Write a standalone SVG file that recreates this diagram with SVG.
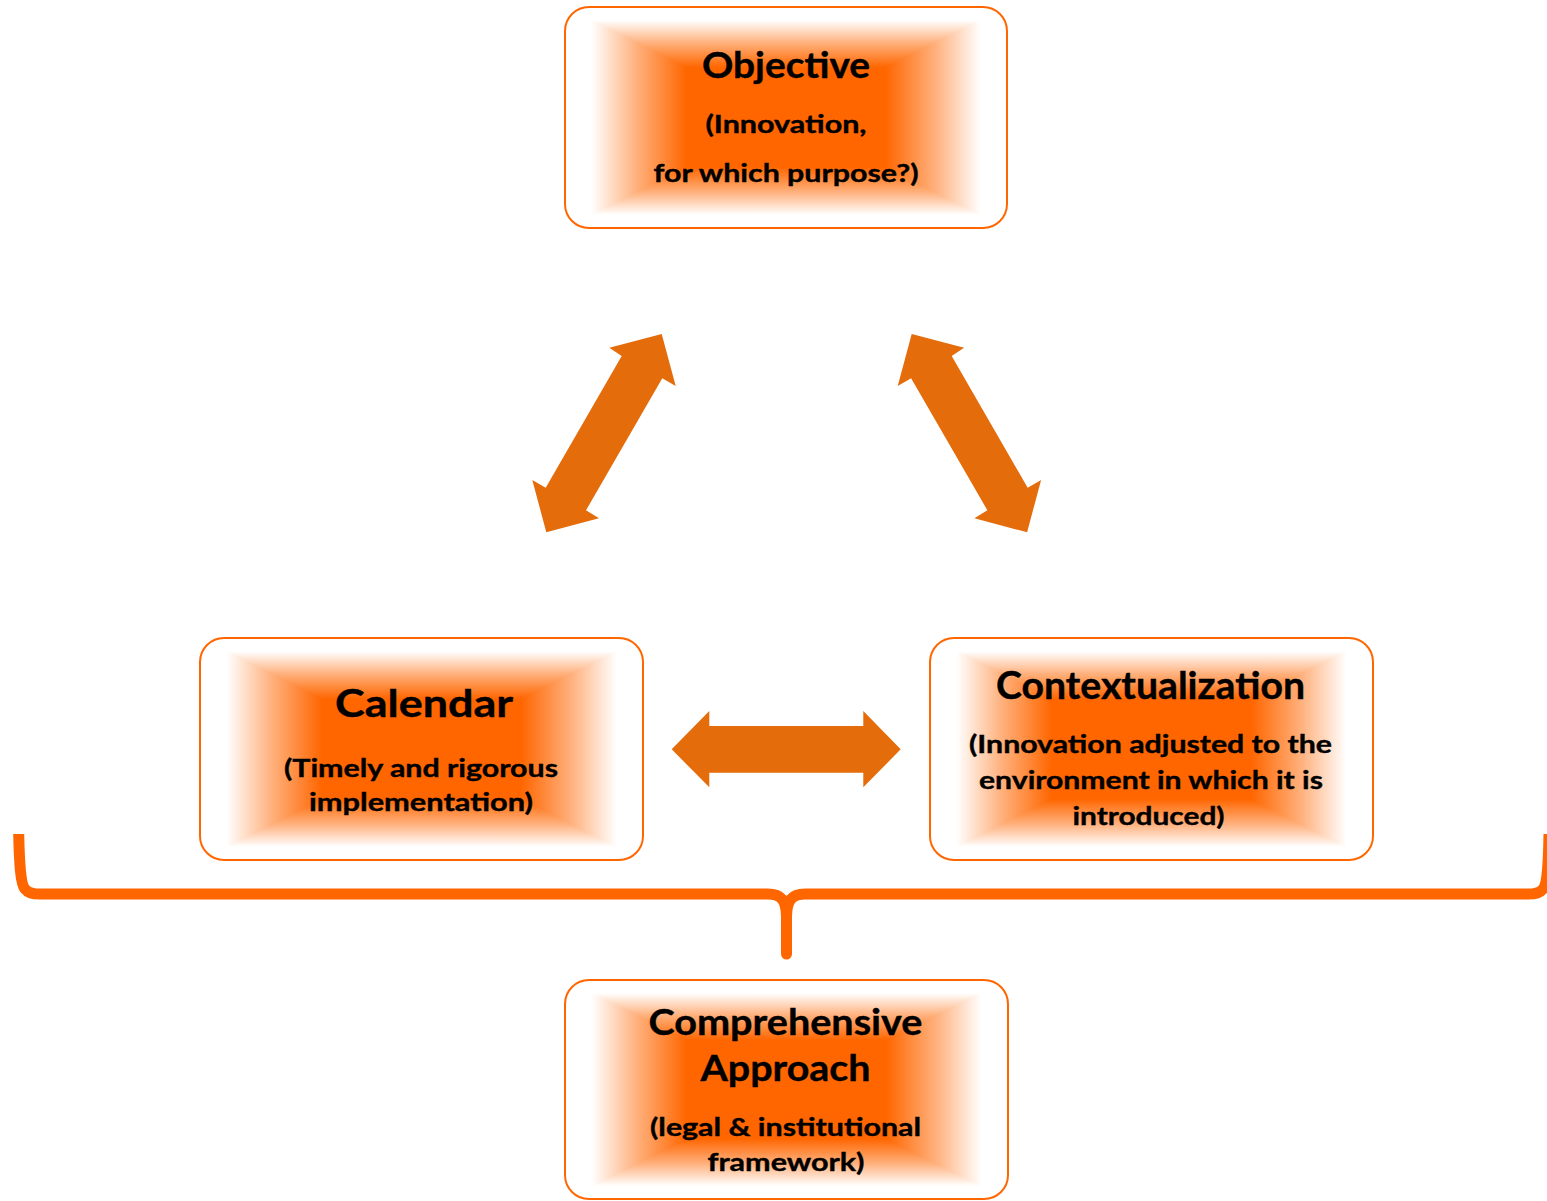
<svg xmlns="http://www.w3.org/2000/svg" width="1547" height="1201" viewBox="0 0 1547 1201">
  <style>
    .t { font-family: Lato, "Open Sans", "Liberation Sans", sans-serif; font-weight: bold; fill: #000; stroke: #000; stroke-width: 0.4; text-anchor: middle; }
    .h { font-size: 36px; }
    .hl { font-size: 38px; }
    .s { font-size: 25px; }
    .frame { fill: none; stroke: #FF6600; stroke-width: 2; }
    .arrow { fill: #E46C0A; }
    .brace { fill: none; stroke: #FF6600; stroke-width: 11; stroke-linecap: butt; stroke-linejoin: round; }
  </style>
  <defs>
    <linearGradient id="gH" x1="0" y1="0" x2="1" y2="0">
      <stop offset="0" stop-color="#FFFFFF"/>
      <stop offset="0.06" stop-color="#FFFFFF"/>
      <stop offset="0.16" stop-color="#FFB27F"/>
      <stop offset="0.275" stop-color="#FF6600"/>
      <stop offset="0.725" stop-color="#FF6600"/>
      <stop offset="0.84" stop-color="#FFB27F"/>
      <stop offset="0.94" stop-color="#FFFFFF"/>
      <stop offset="1" stop-color="#FFFFFF"/>
    </linearGradient>
    <linearGradient id="gT" x1="0" y1="0" x2="0" y2="1">
      <stop offset="0" stop-color="#FFFFFF"/>
      <stop offset="0.12" stop-color="#FFFFFF"/>
      <stop offset="0.32" stop-color="#FFB27F"/>
      <stop offset="0.55" stop-color="#FF6600"/>
      <stop offset="1" stop-color="#FF6600"/>
    </linearGradient>
    <linearGradient id="gB" x1="0" y1="1" x2="0" y2="0">
      <stop offset="0" stop-color="#FFFFFF"/>
      <stop offset="0.12" stop-color="#FFFFFF"/>
      <stop offset="0.32" stop-color="#FFB27F"/>
      <stop offset="0.55" stop-color="#FF6600"/>
      <stop offset="1" stop-color="#FF6600"/>
    </linearGradient>
  </defs>
  <rect x="0" y="0" width="1547" height="1201" fill="#FFFFFF"/>

  <g id="connectors">
    <path class="arrow" d="M 661.7 334 L 675.7 386 L 662.3 378.3 L 586 510.3 L 599 518.3 L 546.3 532.3 L 532.3 480 L 545.7 487.7 L 621.7 356 L 609.3 347.7 Z"/>
    <path class="arrow" d="M 911.7 334 L 897.7 386 L 911.1 378.3 L 987.4 510.3 L 974.4 518.3 L 1027.1 532.3 L 1041.1 480 L 1027.7 487.7 L 951.7 356 L 964.1 347.7 Z"/>
    <path class="arrow" d="M 671.7 749.3 L 709.3 711 L 709.3 726 L 863.3 726 L 863.3 711 L 900.7 749.3 L 863.3 787.3 L 863.3 772.7 L 709.3 772.7 L 709.3 787.3 Z"/>
    <path class="brace" d="M 18.7 834 C 19.3 862, 20.5 884, 25 889 C 28 893, 32 894, 40 894 L 768 894 C 781 894, 786 900, 786.5 916 L 786.5 954"/>
    <path class="brace" d="M 1549 834 C 1548.5 862, 1547.5 884, 1543 889 C 1540 893, 1536 894, 1528 894 L 805 894 C 792 894, 787 900, 786.5 916 L 786.5 954"/>
    <circle cx="786.5" cy="954" r="5.5" fill="#FF6600"/>
  </g>

  <g id="objective">
    <rect x="565" y="7" width="442" height="221" fill="url(#gH)"/>
    <polygon points="565,7 1007,7 786,117.5" fill="url(#gT)"/>
    <polygon points="565,228 1007,228 786,117.5" fill="url(#gB)"/>
    <rect class="frame" x="565" y="7" width="442" height="221" rx="24"/>
    <text class="t h" x="786" y="78" textLength="168" lengthAdjust="spacingAndGlyphs">Objective</text>
    <text class="t s" x="786" y="133" textLength="161" lengthAdjust="spacingAndGlyphs">(Innovation,</text>
    <text class="t s" x="786" y="182" textLength="265" lengthAdjust="spacingAndGlyphs">for which purpose?)</text>
  </g>

  <g id="calendar">
    <rect x="200" y="638" width="443" height="222" fill="url(#gH)"/>
    <polygon points="200,638 643,638 421.5,749" fill="url(#gT)"/>
    <polygon points="200,860 643,860 421.5,749" fill="url(#gB)"/>
    <rect class="frame" x="200" y="638" width="443" height="222" rx="24"/>
    <text class="t hl" x="424" y="717" textLength="178" lengthAdjust="spacingAndGlyphs">Calendar</text>
    <text class="t s" x="421" y="777" textLength="274" lengthAdjust="spacingAndGlyphs">(Timely and rigorous</text>
    <text class="t s" x="421" y="811" textLength="224" lengthAdjust="spacingAndGlyphs">implementation)</text>
  </g>

  <g id="contextualization">
    <rect x="930" y="638" width="443" height="222" fill="url(#gH)"/>
    <polygon points="930,638 1373,638 1151.5,749" fill="url(#gT)"/>
    <polygon points="930,860 1373,860 1151.5,749" fill="url(#gB)"/>
    <rect class="frame" x="930" y="638" width="443" height="222" rx="24"/>
    <text class="t hl" x="1150.5" y="699" textLength="309" lengthAdjust="spacingAndGlyphs">Contextualization</text>
    <text class="t s" x="1150.5" y="753" textLength="363" lengthAdjust="spacingAndGlyphs">(Innovation adjusted to the</text>
    <text class="t s" x="1151" y="789" textLength="344" lengthAdjust="spacingAndGlyphs">environment in which it is</text>
    <text class="t s" x="1148.5" y="825" textLength="152" lengthAdjust="spacingAndGlyphs">introduced)</text>
  </g>

  <g id="comprehensive">
    <rect x="565" y="980" width="443" height="219" fill="url(#gH)"/>
    <polygon points="565,980 1008,980 786.5,1089.5" fill="url(#gT)"/>
    <polygon points="565,1199 1008,1199 786.5,1089.5" fill="url(#gB)"/>
    <rect class="frame" x="565" y="980" width="443" height="219" rx="24"/>
    <text class="t h" x="785.5" y="1035" textLength="274" lengthAdjust="spacingAndGlyphs">Comprehensive</text>
    <text class="t h" x="785.5" y="1081" textLength="170" lengthAdjust="spacingAndGlyphs">Approach</text>
    <text class="t s" x="785.5" y="1136" textLength="271" lengthAdjust="spacingAndGlyphs">(legal &amp; institutional</text>
    <text class="t s" x="786" y="1171" textLength="157" lengthAdjust="spacingAndGlyphs">framework)</text>
  </g>
</svg>
